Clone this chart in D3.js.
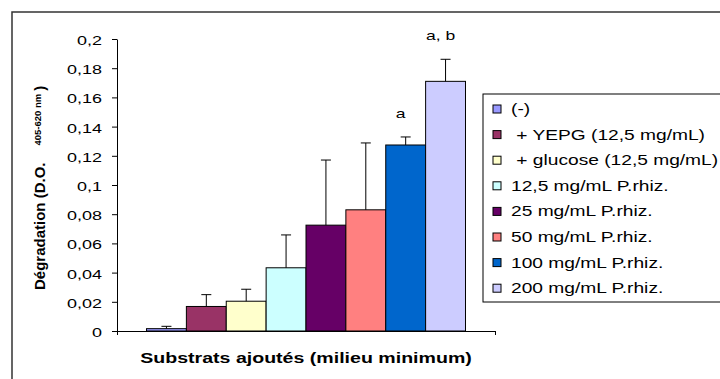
<!DOCTYPE html>
<html lang="fr">
<head>
    <meta charset="UTF-8">
    <title>Dégradation</title>
    <script src="https://d3js.org/d3.v7.min.js"></script>
    <style>
        body { margin: 0; background: #fff; }
        text { font-family: "Liberation Sans", Arial, sans-serif; fill: #000; }
    </style>
</head>
<body>
    <div id="chart-container"></div>
    <script>
        // data
        const series = ["(-)", " + YEPG (12,5 mg/mL)", " + glucose (12,5 mg/mL)", "12,5 mg/mL P.rhiz.",
            "25 mg/mL P.rhiz.", "50 mg/mL P.rhiz.", "100 mg/mL P.rhiz.", "200 mg/mL P.rhiz."];
        const values = [0.0016, 0.0168, 0.0204, 0.0433, 0.0725, 0.0830, 0.1274, 0.1710];
        const errors = [0.0016, 0.0081, 0.0082, 0.0225, 0.0446, 0.0458, 0.0055, 0.0151];
        const signif = ["", "", "", "", "", "", "a", "a, b"];
        const yTicks = [0, 0.02, 0.04, 0.06, 0.08, 0.1, 0.12, 0.14, 0.16, 0.18, 0.2];
        const colors = ["#9999ff", "#993366", "#ffffcc", "#ccffff", "#660066", "#ff8080", "#0066cc", "#ccccff"];

        const W = 720, H = 379;
        const plot = { left: 117, right: 495, top: 39, bottom: 331 };
        const sx = 1.35; // horizontal text stretch seen in the picture

        const svg = d3.select("#chart-container")
            .append("svg")
            .attr("width", W)
            .attr("height", H);

        // outer chart frame (runs off the right and bottom edge)
        svg.append("rect")
            .attr("x", 12).attr("y", 12)
            .attr("width", W).attr("height", H)
            .attr("fill", "none")
            .attr("stroke", "#333")
            .attr("stroke-width", 1.5);

        const x = d3.scaleBand()
            .domain(series)
            .range([plot.left, plot.right])
            .paddingInner(0)
            .paddingOuter(0.74);

        const y = d3.scaleLinear()
            .domain([0, 0.2])
            .range([plot.bottom, plot.top]);

        const fr = d3.formatLocale({ decimal: ",", thousands: " ", grouping: [3], currency: ["", ""] });

        // y axis
        const yAxis = svg.append("g")
            .attr("transform", `translate(${plot.left},0)`)
            .call(d3.axisLeft(y).tickValues(yTicks).tickSizeInner(5).tickSizeOuter(0)
                .tickFormat(fr.format(".2~f")));
        yAxis.select(".domain").attr("stroke", "#000");
        yAxis.selectAll(".tick line").attr("stroke", "#000");
        yAxis.selectAll(".tick text")
            .attr("x", null).attr("dy", null)
            .attr("transform", `translate(-15,5.5) scale(${sx},1)`)
            .style("font-family", "Liberation Sans, Arial, sans-serif")
            .style("font-size", "13.3px");

        // x axis: just the baseline with end ticks
        const xLin = d3.scaleLinear().domain([0, 1]).range([plot.left, plot.right]);
        const xAxis = svg.append("g")
            .attr("transform", `translate(0,${plot.bottom})`)
            .call(d3.axisBottom(xLin).tickValues([0, 1]).tickSizeInner(4).tickSizeOuter(0).tickFormat(""));
        xAxis.select(".domain").attr("stroke", "#000");
        xAxis.selectAll(".tick line").attr("stroke", "#000");

        // bars
        svg.selectAll("rect.bar")
            .data(series)
            .join("rect")
            .attr("class", "bar")
            .attr("x", d => x(d))
            .attr("y", (d, i) => y(values[i]))
            .attr("width", x.bandwidth())
            .attr("height", (d, i) => y(0) - y(values[i]))
            .attr("fill", (d, i) => colors[i])
            .attr("stroke", "#000")
            .attr("stroke-width", 1);

        // error bars (upper only)
        const eb = svg.selectAll("g.err")
            .data(series)
            .join("g")
            .attr("class", "err")
            .attr("stroke", "#000")
            .attr("stroke-width", 1);
        eb.append("line")
            .attr("x1", d => x(d) + x.bandwidth() / 2)
            .attr("x2", d => x(d) + x.bandwidth() / 2)
            .attr("y1", (d, i) => y(values[i]))
            .attr("y2", (d, i) => y(values[i] + errors[i]));
        eb.append("line")
            .attr("x1", d => x(d) + x.bandwidth() / 2 - 5)
            .attr("x2", d => x(d) + x.bandwidth() / 2 + 5)
            .attr("y1", (d, i) => y(values[i] + errors[i]))
            .attr("y2", (d, i) => y(values[i] + errors[i]));

        // significance letters
        svg.selectAll("text.sig")
            .data(series)
            .join("text")
            .attr("class", "sig")
            .attr("text-anchor", "middle")
            .attr("transform", (d, i) =>
                `translate(${x(d) + x.bandwidth() / 2 - 5},${y(values[i] + errors[i]) - 19}) scale(${sx},1)`)
            .style("font-size", "13px")
            .text((d, i) => signif[i]);

        // axis titles
        svg.append("text")
            .attr("text-anchor", "middle")
            .attr("transform", `translate(${(plot.left + plot.right) / 2},363) scale(${sx},1)`)
            .style("font-size", "14.5px")
            .style("font-weight", "bold")
            .text("Substrats ajoutés (milieu minimum)");

        const yt = svg.append("text")
            .attr("transform", "translate(45,290) rotate(-90)")
            .style("font-size", "15px")
            .style("font-weight", "bold");
        yt.append("tspan").text("Dégradation (D.O.");
        yt.append("tspan").attr("dx", 17).attr("dy", -4).style("font-size", "9.5px").text("405-620 nm");
        yt.append("tspan").attr("dx", 3).attr("dy", 4).text(")");

        // legend
        const lg = svg.append("g").attr("transform", "translate(483,94)");
        lg.append("rect")
            .attr("width", 300).attr("height", 208)
            .attr("fill", "#fff")
            .attr("stroke", "#000");
        const item = lg.selectAll("g.item")
            .data(series)
            .join("g")
            .attr("class", "item")
            .attr("transform", (d, i) => `translate(0,${15 + i * 25.6})`);
        item.append("rect")
            .attr("x", 10).attr("y", -4)
            .attr("width", 8).attr("height", 8)
            .attr("fill", (d, i) => colors[i])
            .attr("stroke", "#000");
        item.append("text")
            .attr("transform", `translate(28,5) scale(${sx},1)`)
            .style("font-size", "14.2px")
            .style("white-space", "pre")
            .text(d => d);
    </script>
</body>
</html>
